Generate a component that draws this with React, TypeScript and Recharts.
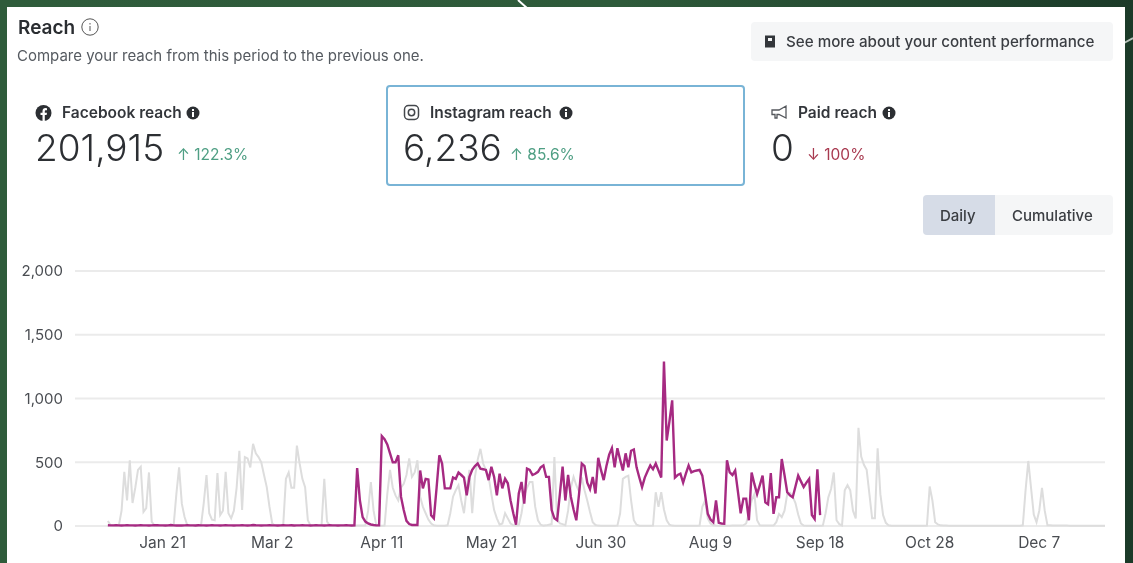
import { CartesianGrid, Line, LineChart, XAxis, YAxis } from "recharts";

// daily reach, one value per day of the year
const previousReach = [
  40, 5, 2, 2, 3, 120, 425, 200, 515, 180,
  300, 440, 465, 110, 140, 420, 35, 4, 2, 2,
  2, 2, 2, 2, 3, 250, 460, 175, 70, 5,
  2, 2, 2, 2, 3, 180, 400, 100, 50, 45,
  415, 85, 120, 425, 100, 60, 120, 300, 590, 125,
  540, 530, 460, 645, 570, 540, 500, 400, 305, 150,
  20, 3, 2, 2, 5, 370, 420, 300, 300, 630,
  490, 370, 305, 45, 3, 2, 2, 2, 3, 370,
  35, 3, 2, 2, 2, 2, 2, 2, 2, 2,
  2, 3, 3, 3, 3, 120, 345, 120, 3, 2,
  2, 3, 250, 440, 300, 240, 200, 300, 330, 400,
  530, 385, 420, 515, 230, 150, 100, 50, 20, 5,
  2, 2, 2, 2, 5, 100, 230, 280, 320, 200,
  100, 300, 440, 100, 385, 520, 605, 490, 440, 385,
  250, 125, 60, 10, 20, 100, 60, 20, 5, 3,
  5, 100, 240, 300, 345, 345, 150, 45, 10, 3,
  5, 10, 15, 540, 50, 20, 15, 5, 120, 300,
  385, 320, 270, 380, 280, 200, 110, 30, 8, 3,
  2, 2, 2, 2, 2, 2, 3, 100, 370, 385,
  395, 200, 45, 10, 2, 2, 2, 2, 2, 3,
  265, 150, 265, 130, 45, 10, 3, 2, 2, 2,
  2, 2, 2, 2, 2, 2, 3, 150, 200, 60,
  20, 5, 3, 2, 2, 2, 2, 2, 3, 3,
  3, 3, 5, 20, 100, 200, 250, 45, 5, 3,
  3, 3, 3, 3, 30, 95, 70, 120, 250, 260,
  230, 180, 90, 20, 3, 2, 2, 2, 2, 2,
  2, 3, 100, 225, 290, 420, 45, 15, 5, 280,
  320, 280, 120, 60, 770, 545, 480, 440, 250, 60,
  60, 610, 250, 85, 25, 5, 2, 2, 2, 2,
  2, 2, 2, 2, 2, 2, 2, 2, 2, 3,
  310, 200, 30, 12, 5, 3, 3, 2, 2, 2,
  2, 2, 2, 2, 2, 2, 2, 2, 2, 2,
  2, 2, 2, 2, 2, 2, 2, 2, 2, 2,
  2, 2, 2, 2, 5, 280, 510, 300, 90, 30,
  120, 300, 120, 5, 5, 4, 3, 3, 3, 3,
  3, 2, 2, 2, 2, 2, 2, 2, 2, 2,
  2, 2, 2, 2, 2,
];

const currentReach = [
  6, 5, 5, 6, 5, 4, 5, 6, 5, 5,
  4, 5, 6, 5, 5, 4, 5, 7, 6, 5,
  5, 4, 5, 8, 5, 4, 5, 4, 5, 6,
  5, 5, 4, 6, 5, 5, 4, 5, 6, 5,
  5, 4, 5, 6, 5, 5, 4, 5, 5, 6,
  5, 4, 5, 8, 6, 5, 4, 5, 5, 6,
  5, 5, 4, 5, 7, 5, 5, 6, 4, 5,
  5, 6, 5, 5, 4, 5, 6, 5, 5, 4,
  5, 6, 5, 5, 4, 5, 5, 6, 5, 4,
  5, 455, 200, 70, 35, 20, 12, 8, 5, 5,
  705, 680, 640, 570, 500, 500, 555, 230, 125, 40,
  15, 8, 8, 8, 435, 295, 370, 365, 85, 60,
  300, 555, 490, 295, 295, 295, 380, 370, 420, 400,
  380, 240, 385, 440, 470, 490, 450, 445, 440, 360,
  465, 385, 240, 410, 295, 370, 335, 200, 100, 10,
  255, 345, 175, 450, 440, 400, 410, 425, 460, 475,
  385, 385, 125, 60, 45, 250, 465, 200, 400, 230,
  130, 45, 250, 490, 470, 340, 290, 385, 255, 535,
  440, 360, 470, 560, 610, 460, 610, 520, 435, 570,
  460, 590, 600, 460, 380, 305, 380, 430, 475, 445,
  490, 435, 380, 1290, 670, 820, 985, 380, 400, 410,
  340, 410, 475, 420, 430, 435, 440, 395, 250, 95,
  50, 30, 200, 25, 20, 18, 515, 420, 400, 435,
  270, 100, 215, 215, 45, 420, 330, 250, 320, 395,
  185, 170, 415, 95, 225, 225, 525, 400, 265, 240,
  225, 310, 395, 350, 305, 340, 370, 85, 55, 445,
  85,
];

const tickDays = [20, 60, 100, 140, 180, 220, 260, 300, 340];
const tickLabels = ["Jan 21", "Mar 2", "Apr 11", "May 21", "Jun 30", "Aug 9", "Sep 18", "Oct 28", "Dec 7"];
const yTicks = [0, 500, 1000, 1500, 2000];

const chartData = previousReach.map((previous, day) => ({
  day,
  previous,
  current: currentReach[day],
}));

const font = "Inter, sans-serif";

function Label(props: { x: number; y: number; size: number; color: string; weight?: number; children: any }) {
  return (
    <div
      style={{
        position: "absolute",
        left: props.x,
        top: props.y,
        fontSize: props.size,
        lineHeight: 1,
        color: props.color,
        fontWeight: props.weight || 400,
        whiteSpace: "nowrap",
      }}
    >
      {props.children}
    </div>
  );
}

function InfoDot({ x, y }: { x: number; y: number }) {
  return (
    <svg style={{ position: "absolute", left: x, top: y }} width={14} height={14} viewBox="0 0 14 14">
      <circle cx={7} cy={7} r={6.5} fill="#2c2f33" />
      <rect x={6} y={6} width={2} height={5} fill="#fff" />
      <rect x={6} y={3} width={2} height={2} fill="#fff" />
    </svg>
  );
}

function Stat(props: { x: number; iconX: number; name: string; value: string; pct: string; pctX: number; dotX: number; color: string; icon: any }) {
  return (
    <>
      <svg style={{ position: "absolute", left: props.iconX - 1, top: 104 }} width={18} height={18} viewBox="0 0 18 18">
        {props.icon}
      </svg>
      <Label x={props.x} y={105} size={15.5} color="#33363b" weight={600}>{props.name}</Label>
      <InfoDot x={props.dotX} y={106} />
      <Label x={props.iconX - 1} y={129} size={37} color="#2c2f33" weight={300}>{props.value}</Label>
      <Label x={props.pctX} y={147} size={15.5} color={props.color}>{props.pct}</Label>
    </>
  );
}

export default function App() {
  return (
    <div
      style={{
        position: "fixed",
        left: 0,
        top: 0,
        width: 1133,
        height: 563,
        overflow: "hidden",
        fontFamily: font,
        background: "linear-gradient(90deg, #2f5c3b 0%, #2e5a3a 55%, #1b3a28 100%)",
      }}
    >
      <svg style={{ position: "absolute", left: 0, top: 0 }} width={1133} height={563}>
        <line x1={518} y1={0} x2={528} y2={9} stroke="#fff" strokeWidth={2} />
        <line x1={1124} y1={43} x2={1133} y2={38} stroke="#b9c4bd" strokeWidth={2} />
      </svg>
      <div style={{ position: "absolute", left: 7, top: 7, width: 1118, height: 556, background: "#fff", filter: "blur(0.7px)" }}>
        <div style={{ position: "absolute", left: -7, top: -7, width: 1133, height: 563 }}>
          <Label x={18} y={18} size={19} color="#2a2d31" weight={600}>Reach</Label>
          <svg style={{ position: "absolute", left: 81, top: 18 }} width={18} height={18} viewBox="0 0 18 18">
            <circle cx={9} cy={9} r={8.2} fill="none" stroke="#555" strokeWidth={1} />
            <rect x={8.5} y={8} width={1} height={5} fill="#555" />
            <rect x={8.5} y={5} width={1} height={1.5} fill="#555" />
          </svg>
          <Label x={17} y={48} size={15} color="#555a60">Compare your reach from this period to the previous one.</Label>

          <div style={{ position: "absolute", left: 751, top: 22, width: 362, height: 39, background: "#f5f6f7", borderRadius: 4 }} />
          <svg style={{ position: "absolute", left: 764, top: 35 }} width={13} height={13} viewBox="0 0 13 13">
            <rect x={1} y={0.5} width={10} height={12} fill="#33363b" />
            <rect x={4} y={3} width={4} height={3} fill="#f5f6f7" />
          </svg>
          <Label x={786} y={34} size={15.2} color="#3a3d42" weight={500}>See more about your content performance</Label>

          <div style={{ position: "absolute", left: 386, top: 85, width: 355, height: 97, border: "2px solid #79b4d6", borderRadius: 4 }} />

          <Stat
            x={62}
            iconX={36}
            name="Facebook reach"
            value="201,915"
            pct="↑ 122.3%"
            pctX={177}
            dotX={186}
            color="#4f9f84"
            icon={
              <>
                <circle cx={8.5} cy={9} r={8} fill="#2c2f33" />
                <path d="M7.5 17V11H5.5V8.7H7.5V7C7.5 5 8.8 4 10.4 4L12 4.2V6.2H11C10.1 6.2 9.8 6.7 9.8 7.4V8.7H12L11.6 11H9.8V17Z" fill="#fff" />
              </>
            }
          />
          <Stat
            x={430}
            iconX={404}
            name="Instagram reach"
            value="6,236"
            pct="↑ 85.6%"
            pctX={510}
            dotX={559}
            color="#4f9f84"
            icon={
              <>
                <rect x={1.5} y={1.5} width={14} height={14} rx={4} fill="none" stroke="#44474c" strokeWidth={1.5} />
                <circle cx={8.5} cy={8.5} r={3.2} fill="none" stroke="#44474c" strokeWidth={1.5} />
              </>
            }
          />
          <Stat
            x={798}
            iconX={772}
            name="Paid reach"
            value="0"
            pct="↓ 100%"
            pctX={807}
            dotX={882}
            color="#a83a50"
            icon={<path d="M1 6H8L15 2V14L8 10.5H6V14H4V10.5H1Z" fill="none" stroke="#55585d" strokeWidth={1.3} />}
          />

          <div style={{ position: "absolute", left: 923, top: 195, width: 72, height: 40, background: "#d6dce7", borderRadius: "4px 0 0 4px" }} />
          <div style={{ position: "absolute", left: 995, top: 195, width: 118, height: 40, background: "#f5f6f7", borderRadius: "0 4px 4px 0" }} />
          <Label x={940} y={208} size={15} color="#3a3d42" weight={500}>Daily</Label>
          <Label x={1012} y={208} size={15} color="#3a3d42" weight={500}>Cumulative</Label>

          <div style={{ position: "absolute", left: 0, top: 250 }}>
            <LineChart width={1133} height={313} data={chartData} margin={{ top: 21, right: 28, bottom: 7, left: 3 }}>
              <CartesianGrid vertical={false} stroke="#ebebeb" strokeWidth={2} />
              <XAxis
                dataKey="day"
                type="number"
                domain={[-12, 364]}
                ticks={tickDays}
                tickFormatter={(d: number) => tickLabels[tickDays.indexOf(d)]}
                axisLine={false}
                tickLine={false}
                height={30}
                tickMargin={5}
                tick={{ fontSize: 15.5, fill: "#4a4d52", fontFamily: font }}
              />
              <YAxis
                domain={[0, 2000]}
                ticks={yTicks}
                tickFormatter={(v: number) => v.toLocaleString("en-US")}
                axisLine={false}
                tickLine={false}
                width={72}
                tickMargin={6}
                tick={{ fontSize: 15, fill: "#4a4d52", fontFamily: font }}
              />
              <Line dataKey="previous" type="linear" stroke="#dddddd" strokeWidth={2} dot={false} isAnimationActive={false} />
              <Line dataKey="current" type="linear" stroke="#a62a82" strokeWidth={2.4} dot={false} isAnimationActive={false} />
            </LineChart>
          </div>
        </div>
      </div>
    </div>
  );
}
